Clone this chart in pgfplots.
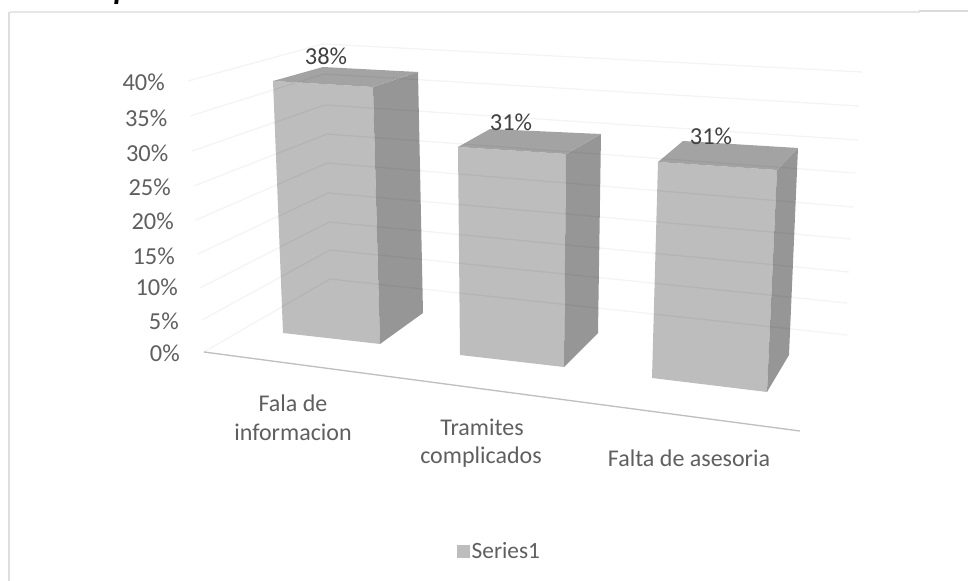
\documentclass[border=0pt]{standalone}
\usepackage{pgfplots}
\pgfplotsset{compat=1.18}
\usepackage{fontspec}
\setmainfont{Carlito}
\definecolor{frontc}{HTML}{BDBDBD}
\definecolor{sidec}{HTML}{969696}
\definecolor{topc}{HTML}{A3A3A3}
\definecolor{tickc}{HTML}{5F5F5F}
\definecolor{labc}{HTML}{404040}
\definecolor{framec}{HTML}{E6E6E6}
\begin{document}
\begin{tikzpicture}[x=0.75pt,y=0.75pt]
\useasboundingbox (0,0) rectangle (968,581);
\begin{axis}[
  at={(0,0)},anchor=south west,
  width=726pt,height=435.75pt,scale only axis,
  xmin=0,xmax=968,ymin=0,ymax=581,y dir=reverse,
  hide axis,clip=false,
  legend style={at={(axis cs:500,551)},anchor=center,draw=none,fill=none,
    font=\fontsize{17.5}{20}\selectfont\color{tickc},
    legend cell align=left,inner sep=0pt,
    /tikz/every even column/.append style={column sep=2pt}},
]
% frame
\addplot[forget plot,framec,line width=1pt] coordinates {(10,12)(920,12)};
\addplot[forget plot,black!13,line width=1.6pt] coordinates {(9,12)(9,581)};
\addplot[forget plot,black!14,line width=1.6pt] coordinates {(919,11)(968,11)};
% floor front edge
\addplot[forget plot,color=black!25,line width=1pt] coordinates {(204,352)(800,431)};
% bars: front, side, top faces (values 38%, 31%, 31%)
\addplot[forget plot,draw=none,fill=frontc] coordinates {(273,81)(373,87)(380,344)(283,333)} --cycle;
\addplot[forget plot,draw=none,fill=sidec] coordinates {(373,87)(418,72)(423,313)(380,344)} --cycle;
\addplot[forget plot,draw=none,fill=topc] coordinates {(273,81)(323,67)(418,72)(373,87)} --cycle;
\addplot[forget plot,draw=none,fill=frontc] coordinates {(458,147)(566,154)(564,367)(460,355)} --cycle;
\addplot[forget plot,draw=none,fill=sidec] coordinates {(566,154)(601,134)(598,333)(564,367)} --cycle;
\addplot[forget plot,draw=none,fill=topc] coordinates {(458,147)(490,129)(601,134)(566,154)} --cycle;
\addplot[forget plot,draw=none,fill=frontc] coordinates {(658,162)(777,170)(767,392)(652,378)} --cycle;
\addplot[forget plot,draw=none,fill=sidec] coordinates {(777,170)(798,148)(789,355)(767,392)} --cycle;
\addplot[forget plot,draw=none,fill=topc] coordinates {(658,162)(683,141)(798,148)(777,170)} --cycle;
% gridlines 40% ... 0%
\pgfplotsset{gl/.style={forget plot,black,opacity=0.045,line width=1pt}}
\addplot[gl] coordinates {(188,81)(323,44)(862,72)};
\addplot[gl] coordinates {(190,116)(324,74)(859,106)};
\addplot[gl] coordinates {(192,151)(325,105)(858,140)};
\addplot[gl] coordinates {(194,186)(327,134)(856,173)};
\addplot[gl] coordinates {(196,220)(327,163)(853,207)};
\addplot[gl] coordinates {(198,254)(328,193)(851,239)};
\addplot[gl] coordinates {(200,288)(329,222)(849,272)};
\addplot[gl] coordinates {(202,320)(330,250)(847,303)};
\addplot[gl] coordinates {(204,352)(330,279)(847,335)};
% legend entry
\addlegendimage{only marks,color=frontc,mark=square*,mark size=4.4pt,mark options={draw=frontc,fill=frontc}}
\addlegendentry{Series1}
% tick labels
\begin{scope}[every node/.style={font=\fontsize{18.3}{20}\selectfont,text=tickc,inner sep=0pt,anchor=east}]
\node at (axis cs:165,82) {40\%};
\node at (axis cs:167.5,118) {35\%};
\node at (axis cs:168.5,153) {30\%};
\node at (axis cs:171,187) {25\%};
\node at (axis cs:174,221) {20\%};
\node at (axis cs:175,256) {15\%};
\node at (axis cs:178,287) {10\%};
\node at (axis cs:179,321) {5\%};
\node at (axis cs:180,353) {0\%};
\end{scope}
\begin{scope}[every node/.style={font=\fontsize{18.3}{20}\selectfont,text=labc,inner sep=0pt,anchor=center}]
\node at (axis cs:326,56) {38\%};
\node at (axis cs:511,122) {31\%};
\node at (axis cs:711,136) {31\%};
\end{scope}
\begin{scope}[every node/.style={font=\fontsize{18}{20}\selectfont,text=tickc,inner sep=0pt,anchor=center}]
\node at (axis cs:293,403) {Fala de};
\node at (axis cs:293,432) {informacion};
\node at (axis cs:482,427) {Tramites};
\node at (axis cs:481,457) {complicados};
\node at (axis cs:689,458) {Falta de asesoria};
\end{scope}
\node[font=\fontsize{24}{26}\selectfont\itshape\bfseries,text=black,inner sep=0pt,anchor=base west] at (axis cs:8,0) {ultados para la mala};
\end{axis}
\end{tikzpicture}
\end{document}
